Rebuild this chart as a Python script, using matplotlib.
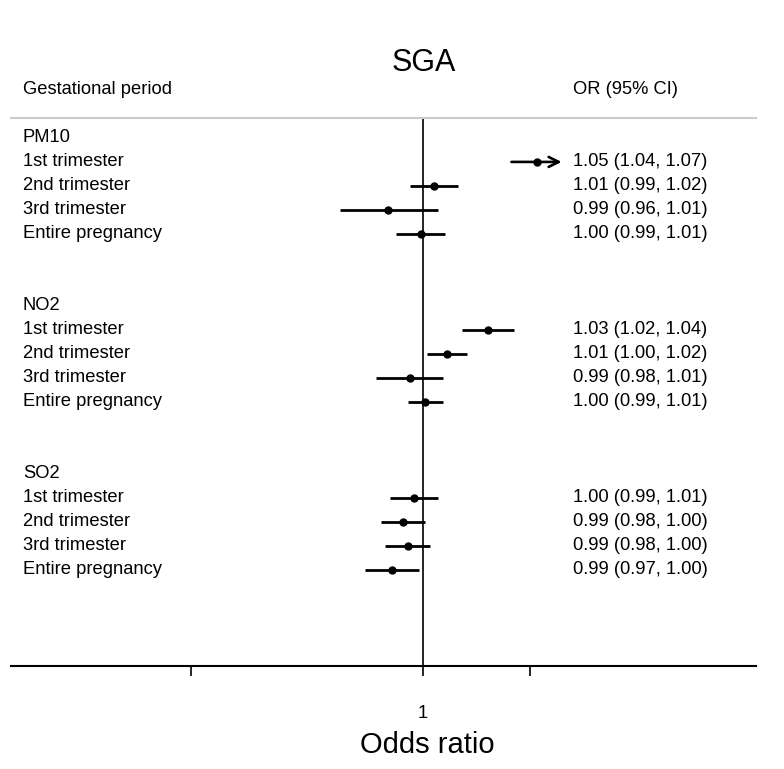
import matplotlib
matplotlib.use("Agg")
import matplotlib.pyplot as plt
import matplotlib.transforms as mtransforms
import numpy as np

plt.rcParams['font.family'] = ['Liberation Sans', 'DejaVu Sans']

title = "SGA"
pollutants = ["PM10", "NO2", "SO2"]
periods = ["1st trimester", "2nd trimester", "3rd trimester", "Entire pregnancy"]

or_est = [1.053, 1.005, 0.984, 0.999,
          1.030, 1.011, 0.994, 1.001,
          0.996, 0.991, 0.993, 0.986]
ci_lo = [1.041, 0.994, 0.963, 0.988,
         1.018, 1.002, 0.979, 0.993,
         0.985, 0.981, 0.983, 0.974]
ci_hi = [1.070, 1.016, 1.007, 1.010,
         1.042, 1.020, 1.009, 1.009,
         1.007, 1.001, 1.003, 0.998]
or_labels = ["1.05 (1.04, 1.07)", "1.01 (0.99, 1.02)", "0.99 (0.96, 1.01)", "1.00 (0.99, 1.01)",
             "1.03 (1.02, 1.04)", "1.01 (1.00, 1.02)", "0.99 (0.98, 1.01)", "1.00 (0.99, 1.01)",
             "1.00 (0.99, 1.01)", "0.99 (0.98, 1.00)", "0.99 (0.98, 1.00)", "0.99 (0.97, 1.00)"]
x_ticks = [0.9, 1.0, 1.05]
x_tick_labels = ["", "1", ""]

W, H = 784, 769
fig = plt.figure(figsize=(W / 100, H / 100), dpi=100)
ax = fig.add_axes([11 / W, 1 - 666 / H, (756 - 11) / W, (666 - 118) / H])

xmin, xmax = 0.8292, 1.1634
clip_hi = 1.065
ax.set_xscale('log')
ax.set_xlim(xmin, xmax)
ax.set_ylim(22, -0.83)

# row positions
rows = []
label_rows = []
for g, p in enumerate(pollutants):
    base = g * 7
    label_rows.append((base, p))
    for i in range(len(periods)):
        rows.append(base + 1 + i)

ax.axvline(1.0, color='black', lw=1.2, zorder=1)

for k, y in enumerate(rows):
    lo, hi, est = ci_lo[k], ci_hi[k], or_est[k]
    if hi > clip_hi:
        ax.annotate("", xy=(clip_hi, y), xytext=(lo, y),
                    arrowprops=dict(arrowstyle='->', lw=1.9, color='black',
                                    shrinkA=0, shrinkB=0, mutation_scale=18))
    else:
        ax.plot([lo, hi], [y, y], color='black', lw=2.0, solid_capstyle='butt', zorder=2)
    ax.plot([est], [y], 'o', color='black', ms=5, zorder=3)

tr_left = mtransforms.blended_transform_factory(fig.transFigure, ax.transData)
fs = 13.2
for base, p in label_rows:
    ax.text(23 / W, base, p, transform=tr_left, fontsize=fs, va='center', ha='left')
for k, y in enumerate(rows):
    ax.text(23 / W, y, periods[k % 4], transform=tr_left, fontsize=fs, va='center', ha='left')
    ax.text(573 / W, y, or_labels[k], transform=tr_left, fontsize=fs, va='center', ha='left')

# header
fig.text(23 / W, 1 - 90 / H, "Gestational period", fontsize=fs, va='center', ha='left')
fig.text(573 / W, 1 - 90 / H, "OR (95% CI)", fontsize=fs, va='center', ha='left')
fig.add_artist(plt.Line2D([11 / W, 756 / W], [1 - 118 / H, 1 - 118 / H],
                          transform=fig.transFigure, color='#cccccc', lw=1.5))
fig.text(424 / W, 1 - 63 / H, title, fontsize=22, va='center', ha='center')

for s in ['top', 'right', 'left']:
    ax.spines[s].set_visible(False)
ax.spines['bottom'].set_linewidth(1.5)
ax.set_yticks([])
ax.set_xticks(x_ticks)
ax.set_xticklabels(x_tick_labels)
ax.xaxis.set_minor_locator(matplotlib.ticker.NullLocator())
ax.tick_params(axis='x', direction='out', length=7, width=1.2, labelsize=fs, pad=21)
ax.set_xlabel("Odds ratio", fontsize=21, labelpad=7.5)
ax.xaxis.set_label_coords((427 - 11) / (756 - 11), -(745 - 666) / (666 - 118), transform=ax.transAxes)
ax.xaxis.label.set_va('center')

fig.savefig("out.png", dpi=100)
